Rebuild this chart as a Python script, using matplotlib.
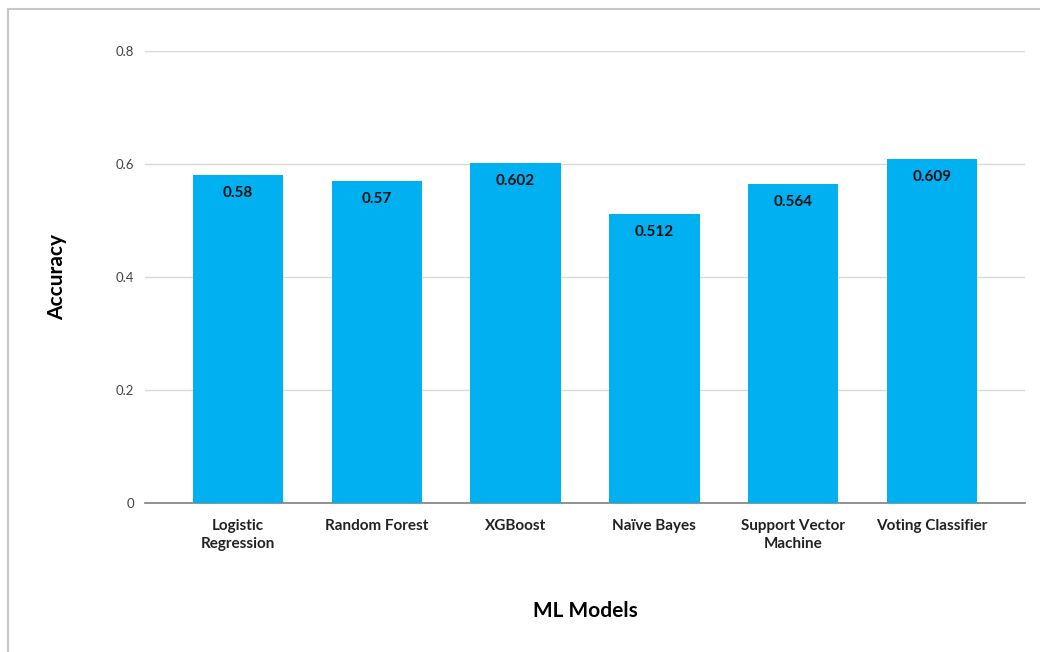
import matplotlib
matplotlib.use('Agg')
import matplotlib.pyplot as plt
from matplotlib.lines import Line2D
import numpy as np

plt.rcParams['font.family'] = ['Lato', 'DejaVu Sans']

models = ['Logistic\nRegression', 'Random Forest', 'XGBoost', 'Naïve Bayes',
          'Support Vector\nMachine', 'Voting Classifier']
accuracy = [0.58, 0.57, 0.602, 0.512, 0.564, 0.609]
yticks = [0, 0.2, 0.4, 0.6, 0.8]
ytick_labels = ['0', '0.2', '0.4', '0.6', '0.8']

x = np.arange(len(models))

fig = plt.figure(figsize=(10.4, 6.52), dpi=100)
ax = fig.add_axes([145/1040, 1 - 502.5/652, 880/1040, 451.5/652])

bars = ax.bar(x, accuracy, width=0.65, color='#00B0F0', zorder=3)

# value labels just inside the top of each bar
for rect, val in zip(bars, accuracy):
    ax.annotate('{}'.format(val),
                xy=(rect.get_x() + rect.get_width() / 2, rect.get_height()),
                xytext=(0, -8), textcoords='offset points',
                ha='center', va='top', fontsize=11, fontweight='bold',
                color='#111111', zorder=4)

ax.set_xlim(-0.67, len(models) - 1 + 0.67)
ax.set_ylim(0, 0.8)
ax.set_yticks(yticks)
ax.set_yticklabels(ytick_labels)
ax.yaxis.grid(True, color='#d9d9d9', linewidth=1, zorder=0)

ax.set_xticks(x)
ax.set_xticklabels(models, fontsize=11, fontweight='bold', color='#222222',
                   linespacing=1.35)
ax.tick_params(axis='x', length=0, pad=12)
ax.tick_params(axis='y', length=0, pad=8, labelsize=9.5, labelcolor='#444444')

for side in ['top', 'right', 'left']:
    ax.spines[side].set_visible(False)
ax.spines['bottom'].set_color('#7f7f7f')
ax.spines['bottom'].set_linewidth(1.2)

ax.set_ylabel('Accuracy', fontsize=15, fontweight='bold', labelpad=35)
ax.set_xlabel('ML Models', fontsize=15, fontweight='bold', labelpad=36)

# thin outer frame along the left and top edges
fig.add_artist(Line2D([8/1040, 8/1040], [0, 1 - 9/652], transform=fig.transFigure,
                      color='#c8c8c8', linewidth=1.5))
fig.add_artist(Line2D([8/1040, 1], [1 - 9/652, 1 - 9/652], transform=fig.transFigure,
                      color='#c8c8c8', linewidth=1.5))

fig.savefig('out.png', dpi=100)
